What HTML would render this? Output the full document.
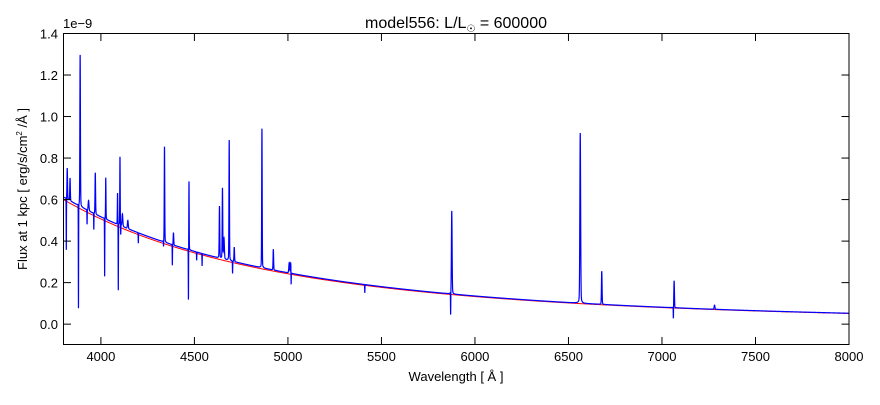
<!DOCTYPE html>
<html><head><meta charset="utf-8"><style>
body{margin:0;background:#fff;}
svg text{font-family:"Liberation Sans","DejaVu Sans",sans-serif;fill:#000;}
</style></head><body>
<svg id="s" width="880" height="400" viewBox="0 0 880 400" xmlns="http://www.w3.org/2000/svg">
<rect width="880" height="400" fill="#fff"/>
<g id="plot"></g>
<rect x="63.5" y="33.5" width="785.5" height="311" fill="none" stroke="#000" stroke-width="1"/>
<g id="ticks" stroke="#000" stroke-width="1"></g>
<g id="labels" font-size="13"></g>
<text x="456" y="28" font-size="16" text-anchor="middle">model556: L/L<tspan font-size="10" dy="4">☉</tspan><tspan dy="-4"> = 600000</tspan></text>
<text x="63" y="28" font-size="13">1e−9</text>
<text x="456" y="381" font-size="13" text-anchor="middle">Wavelength [ Å ]</text>
<text transform="translate(27,189) rotate(-90)" font-size="13" text-anchor="middle">Flux at 1 kpc [ erg/s/cm<tspan font-size="8" dy="-5">2</tspan><tspan dy="5"> /Å ]</tspan></text>
</svg>
<script>
function X(w){return 63.5+(w-3800)*785.5/4200;}
function Y(v){return 33.5+(1.4-v)*207.6;}
function cont(w){return 0.6*Math.pow(3800/w,3.3);}
var em=[[3820,0.15,2],[3835,0.11,2],[3889,0.73,2],[3934,0.05,3],[3970,0.2,2],[4026,0.2,1.5],[4089,0.15,1.5],[4102,0.33,1.5],[4115,0.06,3],[4144,0.04,3],[4340,0.46,1.8],[4388,0.06,2],[4471,0.33,1.3],[4634,0.25,2],[4650,0.34,2],[4658,0.1,3],[4686,0.58,1.8],[4713,0.07,2],[4861,0.67,1.8],[4922,0.1,2],[5007,0.05,3],[5015,0.05,2],[5876,0.4,2.5],[6563,0.82,2.8],[6678,0.16,2.2],[7065,0.13,2.2],[7281,0.02,3]];
var ab=[[3815,0.25,1],[3880,0.5,1],[3926,0.07,1],[3962,0.08,1],[4020,0.28,1],[4093,0.32,1],[4106,0.05,1],[4200,0.05,1],[4335,0.03,1],[4382,0.1,1],[4468,0.25,1],[4512,0.04,1],[4541,0.06,1],[4704,0.06,1],[5017,0.07,1],[5411,0.04,1],[5870,0.11,1],[7061,0.06,1]];
var pb="",pr="";
for(var w=3800;w<=8000;w+=0.25){
 var c=cont(w),v=c*1.02;
 for(var i=0;i<em.length;i++){var d=(w-em[i][0])/em[i][2];v+=em[i][1]*(0.85*Math.exp(-d*d)+0.15/(1+d*d));}
 for(var i=0;i<ab.length;i++){var d=(w-ab[i][0])/ab[i][2];v-=ab[i][1]*Math.exp(-d*d);}
 var x=X(w).toFixed(2);
 pb+=(pb?"L":"M")+x+","+Y(v).toFixed(2);
 if(w%5==0) pr+=(pr?"L":"M")+x+","+Y(c).toFixed(2);
}
var g=document.getElementById("plot");
g.innerHTML='<path d="'+pr+'" fill="none" stroke="#f00" stroke-width="1"/><path d="'+pb+'" fill="none" stroke="#00f" stroke-width="1.2"/>';
var t="",l="";
for(var w=4000;w<=8000;w+=500){var x=X(w);t+='<line x1="'+x+'" y1="344.5" x2="'+x+'" y2="337"/><line x1="'+x+'" y1="33.5" x2="'+x+'" y2="41"/>';l+='<text x="'+x+'" y="361" text-anchor="middle">'+w+'</text>';}
for(var k=0;k<=7;k++){var v=k*0.2,y=Y(v);t+='<line x1="63.5" y1="'+y+'" x2="71" y2="'+y+'"/><line x1="849" y1="'+y+'" x2="841.5" y2="'+y+'"/>';l+='<text x="58" y="'+(y+5)+'" text-anchor="end">'+v.toFixed(1)+'</text>';}
document.getElementById("ticks").innerHTML=t;
document.getElementById("labels").innerHTML=l;
</script>
</body></html>
